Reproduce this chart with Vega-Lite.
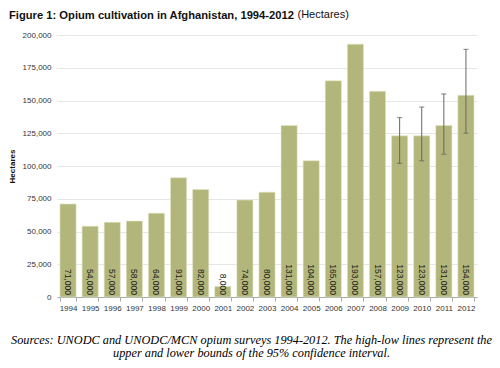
{
  "$schema": "https://vega.github.io/schema/vega-lite/v6.json",
  "autosize": {"type": "none"},
  "width": 420,
  "height": 262,
  "padding": {"left": 57, "top": 35, "right": 23, "bottom": 71},
  "background": "white",
  "title": {
    "text": "Figure 1: Opium cultivation in Afghanistan, 1994-2012",
    "anchor": "start",
    "frame": "group",
    "dx": -48,
    "dy": 17,
    "font": "Liberation Sans",
    "fontSize": 11.2,
    "fontWeight": "bold",
    "color": "#111"
  },
  "config": {
    "view": {"stroke": null},
    "font": "Liberation Sans"
  },
  "data": {
    "values": [
      {"year": "1994", "ha": 71000},
      {"year": "1995", "ha": 54000},
      {"year": "1996", "ha": 57000},
      {"year": "1997", "ha": 58000},
      {"year": "1998", "ha": 64000},
      {"year": "1999", "ha": 91000},
      {"year": "2000", "ha": 82000},
      {"year": "2001", "ha": 8000},
      {"year": "2002", "ha": 74000},
      {"year": "2003", "ha": 80000},
      {"year": "2004", "ha": 131000},
      {"year": "2005", "ha": 104000},
      {"year": "2006", "ha": 165000},
      {"year": "2007", "ha": 193000},
      {"year": "2008", "ha": 157000},
      {"year": "2009", "ha": 123000, "low": 102000, "high": 137000},
      {"year": "2010", "ha": 123000, "low": 104000, "high": 145000},
      {"year": "2011", "ha": 131000, "low": 109000, "high": 155000},
      {"year": "2012", "ha": 154000, "low": 125000, "high": 189000}
    ]
  },
  "resolve": {"axis": {"x": "independent", "y": "independent"}},
  "layer": [
    {
      "mark": {"type": "bar", "color": "#b3b67a", "stroke": "#e4e6c6", "strokeWidth": 0.6},
      "encoding": {
        "x": {
          "field": "year",
          "type": "ordinal",
          "scale": {"paddingInner": 0.27, "paddingOuter": 0.135},
          "axis": {
            "title": ["Sources: UNODC and UNODC/MCN opium surveys 1994-2012. The high-low lines represent the", "upper and lower bounds of the 95% confidence interval."],
            "titleFont": "Liberation Serif",
            "titleFontStyle": "italic",
            "titleFontWeight": "normal",
            "titleFontSize": 12.3,
            "titleColor": "#000",
            "titleAlign": "center",
            "titleBaseline": "alphabetic",
            "titleX": 194,
            "titleY": 46,
            "titleLineHeight": 13,
            "labelAngle": 0,
            "labelFontSize": 8,
            "labelColor": "#333",
            "labelPadding": 3,
            "tickBand": "extent",
            "tickSize": 4,
            "tickColor": "#aaa",
            "domainColor": "#aaa",
            "grid": false
          }
        },
        "y": {
          "field": "ha",
          "type": "quantitative",
          "scale": {"domain": [0, 200000]},
          "axis": {
            "title": "Hectares",
            "titleFontSize": 8,
            "titleFontWeight": "bold",
            "titleColor": "#111",
            "titlePadding": 6,
            "values": [0, 25000, 50000, 75000, 100000, 125000, 150000, 175000, 200000],
            "format": ",d",
            "labelOverlap": false,
            "labelFontSize": 8,
            "labelColor": "#333",
            "labelPadding": 6,
            "domain": false,
            "ticks": false,
            "gridColor": "#e6e6e6",
            "gridWidth": 1
          }
        }
      }
    },
    {
      "mark": {"type": "text", "angle": 90, "align": "right", "baseline": "middle", "dx": -2, "fontSize": 8.5, "color": "#1a1a1a"},
      "encoding": {
        "x": {
          "field": "year",
          "type": "ordinal",
          "axis": {
            "orient": "top",
            "title": "(Hectares)",
            "titleFont": "Liberation Sans",
            "titleFontSize": 11,
            "titleFontWeight": "normal",
            "titleColor": "#111",
            "titleAlign": "left",
            "titleBaseline": "alphabetic",
            "titleAnchor": null,
            "titleX": 240,
            "titleY": -18,
            "labels": false,
            "ticks": false,
            "domain": false,
            "grid": false
          }
        },
        "y": {"datum": 0, "type": "quantitative", "axis": null},
        "text": {"field": "ha", "type": "quantitative", "format": ",d"}
      }
    },
    {
      "transform": [{"filter": "datum.low != null"}],
      "mark": {"type": "rule", "color": "#666", "strokeWidth": 1},
      "encoding": {
        "x": {"field": "year", "type": "ordinal", "axis": null},
        "y": {"field": "low", "type": "quantitative", "axis": null},
        "y2": {"field": "high"}
      }
    },
    {
      "transform": [{"filter": "datum.low != null"}],
      "mark": {"type": "tick", "color": "#666", "size": 5, "thickness": 1.2, "orient": "horizontal"},
      "encoding": {
        "x": {"field": "year", "type": "ordinal", "axis": null},
        "y": {"field": "low", "type": "quantitative", "axis": null}
      }
    },
    {
      "transform": [{"filter": "datum.low != null"}],
      "mark": {"type": "tick", "color": "#666", "size": 5, "thickness": 1.2, "orient": "horizontal"},
      "encoding": {
        "x": {"field": "year", "type": "ordinal", "axis": null},
        "y": {"field": "high", "type": "quantitative", "axis": null}
      }
    }
  ]
}
